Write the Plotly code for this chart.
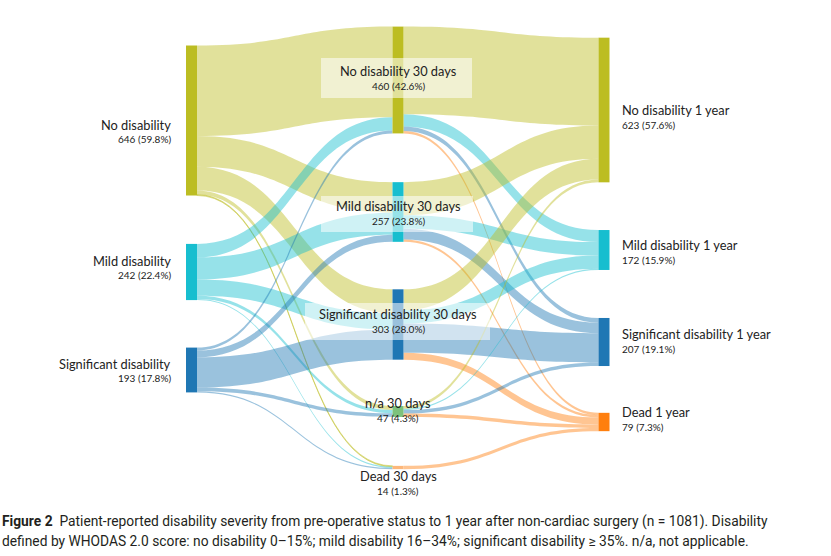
"""Sankey of disability severity: pre-op -> 30 days -> 1 year."""

import plotly.graph_objects as go

W, H = 831, 556

# nodes: pre-operative, 30 days, 1 year
NODE_NAMES = [
    "No disability", "Mild disability", "Significant disability",
    "No disability 30 days", "Mild disability 30 days", "Significant disability 30 days",
    "n/a 30 days", "Dead 30 days",
    "No disability 1 year", "Mild disability 1 year", "Significant disability 1 year",
    "Dead 1 year",
]
NODE_COUNTS = [646, 242, 193, 460, 257, 303, 47, 14, 623, 172, 207, 79]
NODE_PCTS = ["59.8", "22.4", "17.8", "42.6", "23.8", "28.0", "4.3", "1.3",
             "57.6", "15.9", "19.1", "7.3"]
NODE_GROUP = ["none", "mild", "sig", "none", "mild", "sig", "na", "dead30",
              "none", "mild", "sig", "dead"]

# flows (estimated from band widths)
SOURCES = [0, 0, 0, 0, 0,
           1, 1, 1, 1, 1,
           2, 2, 2, 2, 2,
           3, 3, 3, 3,
           4, 4, 4, 4,
           5, 5, 5, 5,
           6, 6, 6, 6,
           7]
TARGETS = [3, 4, 5, 6, 7,
           3, 4, 5, 6, 7,
           3, 4, 5, 6, 7,
           8, 9, 10, 11,
           8, 9, 10, 11,
           8, 9, 10, 11,
           8, 9, 10, 11,
           11]
VALUES = [390, 132, 103, 17, 4,
          58, 95, 70, 14, 5,
          12, 30, 130, 16, 5,
          378, 52, 20, 10,
          143, 58, 46, 10,
          90, 57, 126, 30,
          12, 5, 15, 15,
          14]

CAPTION_1 = ("<b>Figure 2</b>&nbsp;&nbsp;Patient-reported disability severity from pre-operative "
             "status to 1 year after non-cardiac surgery (n = 1081). Disability")
CAPTION_2 = ("defined by WHODAS 2.0 score: no disability 0–15%; mild disability 16–34%; "
             "significant disability ≥ 35%. n/a, not applicable.")

NODE_COLORS = {
    "none": (188, 189, 34),
    "mild": (23, 190, 207),
    "sig": (31, 119, 180),
    "na": (125, 194, 125),
    "dead30": (253, 183, 122),
    "dead": (255, 127, 14),
}
LINK_COLORS = {
    "none": (188, 189, 34),
    "mild": (23, 190, 207),
    "sig": (31, 119, 180),
    "dead": (255, 127, 14),
    "dead30": (255, 127, 14),
    "na": (44, 160, 44),
}

# pixel layout of the sankey area
X0, X1, Y0, Y1 = 186, 609, 26, 469
DW, DH = X1 - X0, Y1 - Y0
NODE_X_PX = [191.5] * 3 + [398] * 5 + [604] * 4
NODE_Y_PX = [120.5, 272, 370, 80, 212, 324.5, 411.5, 467.5, 110, 250, 342, 422]
LABEL_Y_PX = [131.5, 268, 370.5, 78, 213, 321, 410, 483, 117, 252, 341, 419]


def rgba(rgb, a):
    return f"rgba({rgb[0]},{rgb[1]},{rgb[2]},{a})"


link_colors = []
for s, t in zip(SOURCES, TARGETS):
    key = NODE_GROUP[s] if s < 3 else NODE_GROUP[t]
    link_colors.append(rgba(LINK_COLORS[key], 0.45))

fig = go.Figure(
    go.Sankey(
        arrangement="fixed",
        domain=dict(x=[X0 / W, X1 / W], y=[1 - Y1 / H, 1 - Y0 / H]),
        node=dict(
            label=[""] * len(NODE_NAMES),
            customdata=NODE_NAMES,
            x=[(x - X0) / DW for x in NODE_X_PX],
            y=[(y - Y0) / DH for y in NODE_Y_PX],
            pad=48,
            thickness=11,
            color=[rgba(NODE_COLORS[g], 1) for g in NODE_GROUP],
            line=dict(width=0),
            hovertemplate="%{customdata}: %{value}<extra></extra>",
        ),
        link=dict(
            source=SOURCES,
            target=TARGETS,
            value=VALUES,
            color=link_colors,
            hoverinfo="skip",
        ),
    )
)

# translucent boxes behind middle-column labels
BOXES = [(321, 472, 58, 98), (321, 473, 196, 232), (305, 490, 303, 340)]
for bx0, bx1, by0, by1 in BOXES:
    fig.add_shape(
        type="rect", xref="paper", yref="paper", layer="above",
        x0=bx0 / W, x1=bx1 / W, y0=1 - by1 / H, y1=1 - by0 / H,
        fillcolor="rgba(255,255,255,0.55)", line=dict(width=0),
    )

FONT = "Lato, 'Open Sans', sans-serif"
for i, name in enumerate(NODE_NAMES):
    yc = LABEL_Y_PX[i]
    if i < 3:
        xa, xpos = "right", 173
    elif i < 8:
        xa, xpos = "center", 398
    else:
        xa, xpos = "left", 620
    fig.add_annotation(
        x=xpos / W, y=1 - (yc - 7) / H, xref="paper", yref="paper",
        text=name, showarrow=False, xanchor=xa, yanchor="middle",
        font=dict(family=FONT, size=12.8, color="#222222"),
    )
    fig.add_annotation(
        x=xpos / W, y=1 - (yc + 7.5) / H, xref="paper", yref="paper",
        text=f"{NODE_COUNTS[i]} ({NODE_PCTS[i]}%)", showarrow=False,
        xanchor=xa, yanchor="middle",
        font=dict(family=FONT, size=10, color="#222222"),
    )

for txt, ypx in [(CAPTION_1, 521), (CAPTION_2, 541)]:
    fig.add_annotation(
        x=0, y=1 - ypx / H, xref="paper", yref="paper", text=txt,
        showarrow=False, xanchor="left", yanchor="middle",
        font=dict(family="Roboto, sans-serif", size=13.8, color="#231f20"),
    )

fig.update_layout(
    width=W,
    height=H,
    margin=dict(l=0, r=0, t=0, b=0),
    paper_bgcolor="white",
    plot_bgcolor="white",
    showlegend=False,
)

# drop the page's default body margin so the figure sits at the window origin
fig.write_html(
    "out.html",
    config={"displayModeBar": False},
    post_script="document.body.style.margin = '0';",
)
